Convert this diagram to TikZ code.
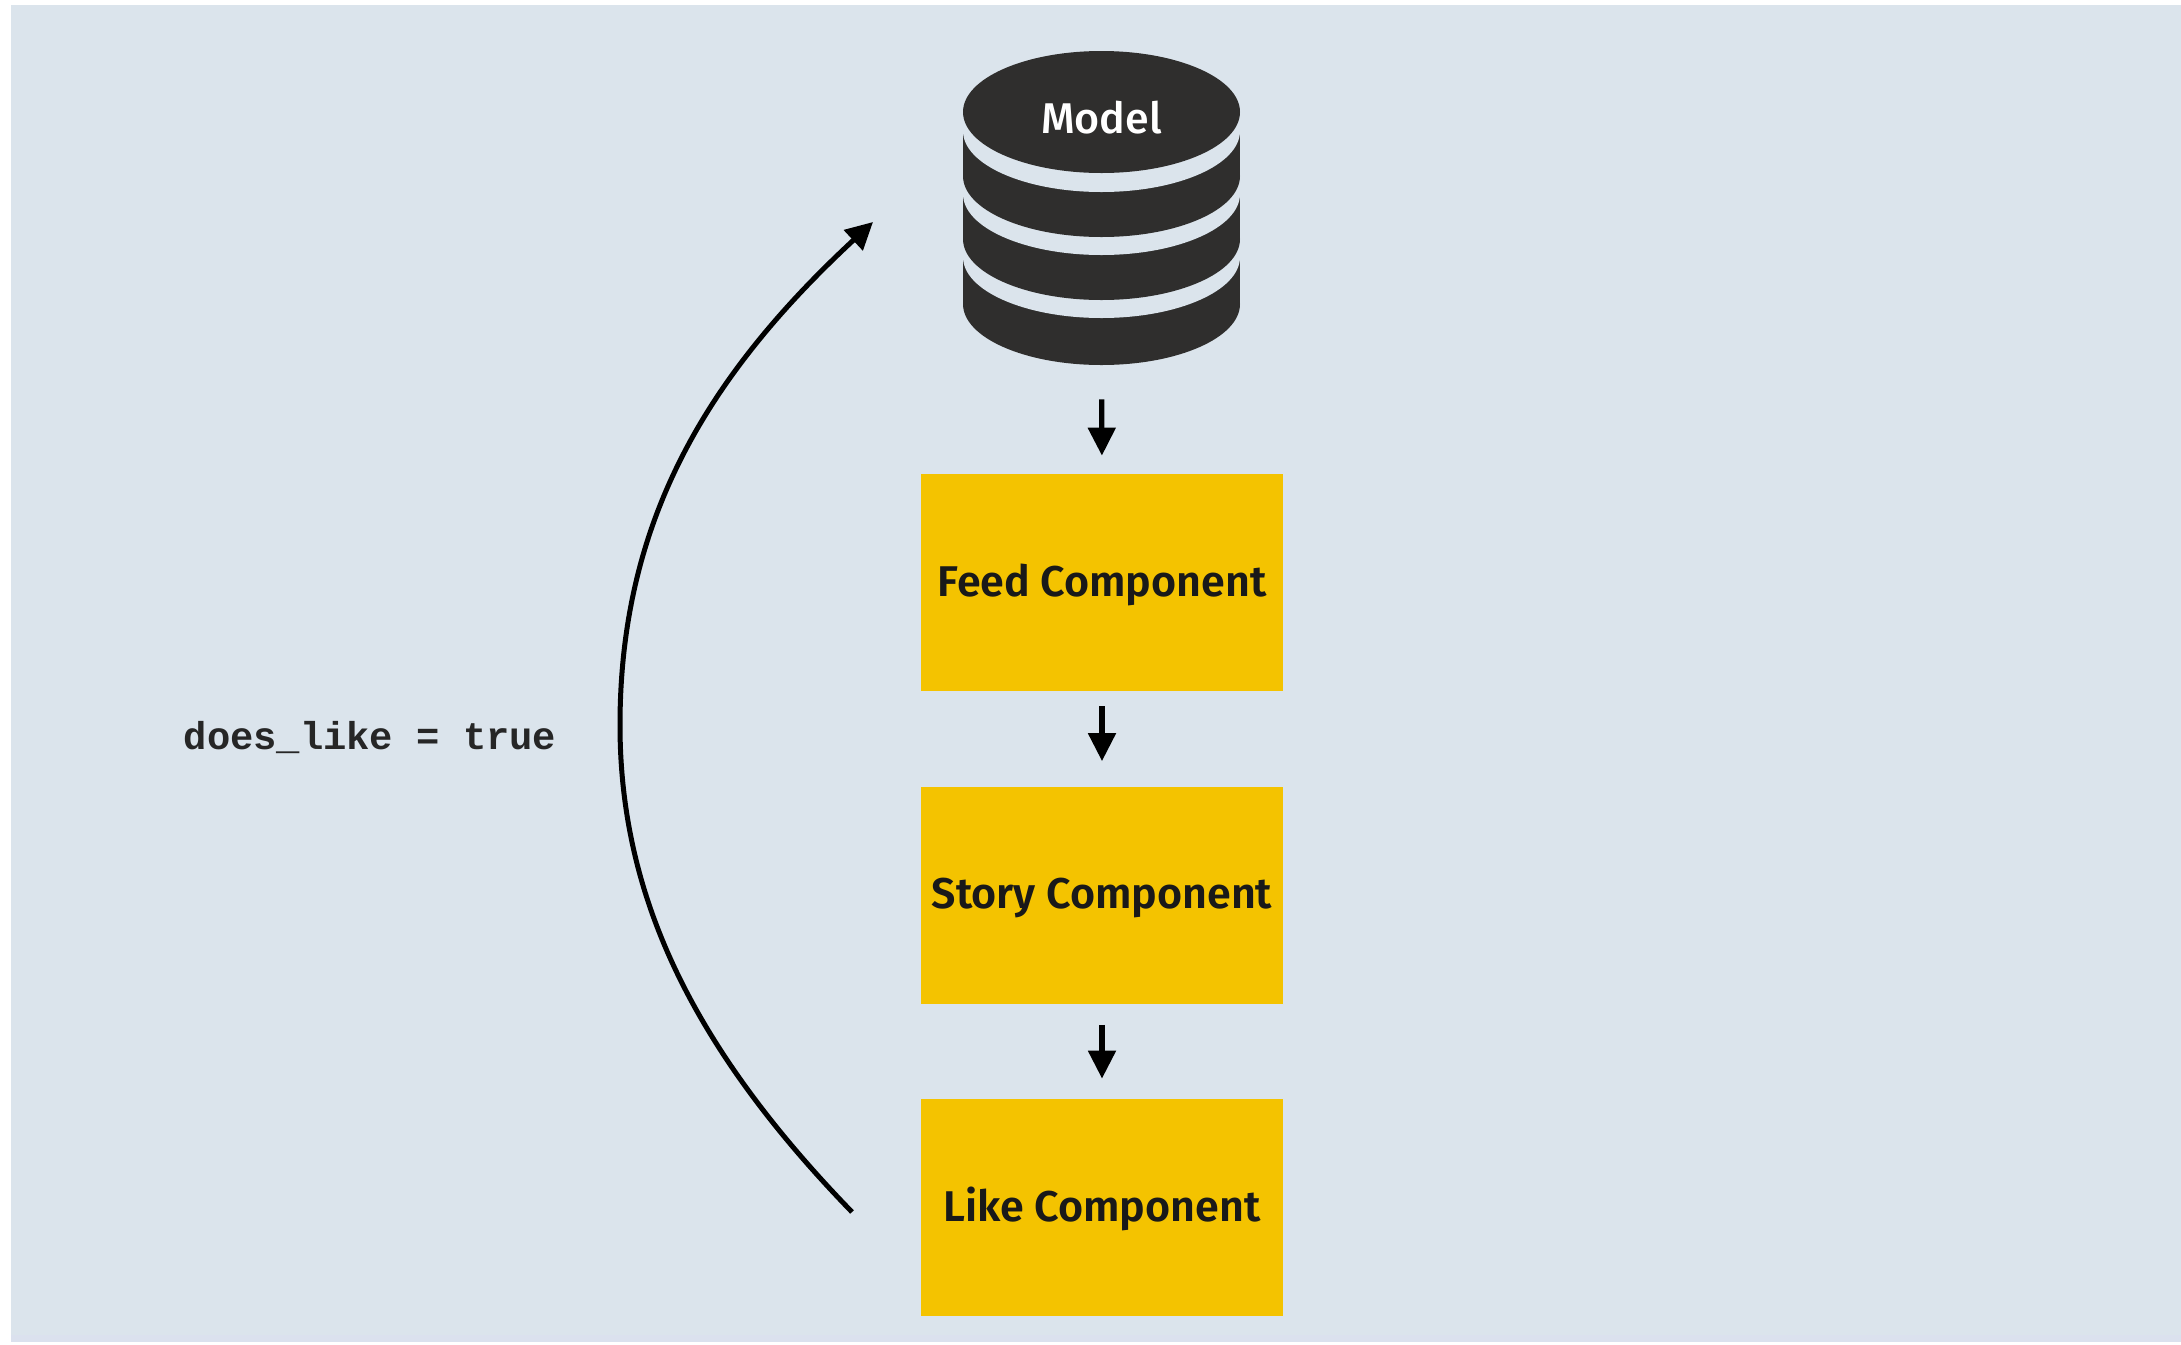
\documentclass[tikz,border=0pt]{standalone}
\usepackage{fontspec}
\usetikzlibrary{arrows.meta}
\newfontfamily\compfont{Fira Sans SemiBold}
\newfontfamily\modelfont{Fira Sans Medium}
\newfontfamily\codefont{Liberation Mono}
\definecolor{paneblue}{HTML}{DBE4EC}
\definecolor{panerim}{HTML}{DBE1EE}
\definecolor{compyellow}{HTML}{F4C300}
\definecolor{dbdark}{HTML}{2F2E2D}
\tikzset{
	comp/.style={fill=compyellow,minimum width=181pt,minimum height=108.5pt,inner sep=0pt,text height=15pt,text depth=1.5pt,font=\compfont\fontsize{21.5}{25}\selectfont,text=black!90},
	flow/.style={-{Triangle[length=14pt,width=13.5pt]},line width=2.6pt,black},
	backflow/.style={-{Triangle[length=13.5pt,width=13.5pt]},line width=2.5pt,black},
}
\begin{document}
\begin{tikzpicture}[x=0.5pt,y=-0.5pt]
		\useasboundingbox (0,0) rectangle (2181,1345);
		\fill[panerim] (11,5) rectangle (2181,1342);
		\fill[paneblue] (11,5) rectangle (2181,1335);
		\foreach \cy/\gapy in {304/257,239/194,176/131}{
			\fill[dbdark] (963,\gapy) rectangle (1240,\cy);
			\fill[dbdark] (1101.5,\cy) ellipse [x radius=69.25pt,y radius=30.5pt];
			\fill[paneblue] (1101.5,\gapy) ellipse [x radius=69.25pt,y radius=30.5pt];
		}
		\fill[dbdark] (1101.5,112) ellipse [x radius=69.25pt,y radius=30.5pt];
		\node[anchor=base,font=\modelfont\fontsize{21.5}{25}\selectfont,text=white] (modeltext) at (1101.5,133) {Model};
		\node[minimum width=138.5pt,minimum height=156.5pt,inner sep=0pt] (model) at (1101.5,208.5) {};
		\node[comp] (feed) at (1102,582.5) {Feed Component};
		\node[comp] (story) at (1102,895) {Story Component};
		\node[comp] (like) at (1102,1207.5) {Like Component};
		\node[anchor=base,font=\codefont\bfseries\fontsize{19.4}{23}\selectfont,text=black!85] (flag) at (370,749) {does\_like = true};
		\coordinate (loopstart) at (852,1212);
		\coordinate (loopmid) at (620,725);
		\coordinate (loopend) at (873,222);
		\draw[flow,shorten <=17pt,shorten >=9pt] (model.south) -- (feed.north);
		\draw[flow,shorten <=7.5pt,shorten >=12.5pt] (feed.south) -- (story.north);
		\draw[flow,shorten <=10.5pt,shorten >=10pt] (story.south) -- (like.north);
		\draw[backflow] (loopstart) .. controls (691,1046) and (620,895) .. (loopmid) .. controls (620,520) and (708,375) .. (loopend);
		\end{tikzpicture}
\end{document}
